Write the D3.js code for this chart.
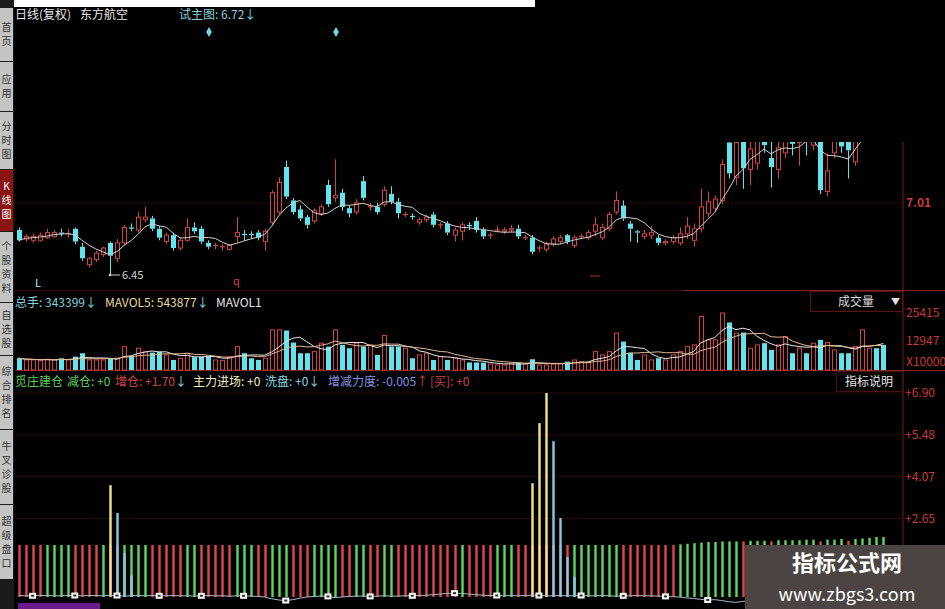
<!DOCTYPE html>
<html><head><meta charset="utf-8">
<script src="https://cdn.jsdelivr.net/npm/d3@7"></script>
<style>
html,body{margin:0;padding:0;background:#000;overflow:hidden;}
svg{display:block;}
text{font-family:"Noto Sans CJK SC","Liberation Sans",sans-serif;}
</style></head><body>
<svg id="c" width="945" height="609"></svg>
<script>
// ---------------- DATA ----------------
const opens  = [6.80,6.73,6.72,6.72,6.74,6.75,6.78,6.77,6.81,6.67,6.53,6.57,6.61,6.70,6.58,6.70,6.82,6.80,6.88,6.89,
                6.81,6.71,6.76,6.66,6.72,6.82,6.81,6.70,6.68,6.67,6.65,6.75,6.77,6.77,6.78,6.71,6.86,6.94,7.29,7.03,
                6.96,6.90,6.87,6.93,7.15,7.05,7.09,6.97,6.94,7.18,6.98,6.98,7.00,7.08,7.02,6.92,6.91,6.86,6.88,6.92,
                6.84,6.85,6.76,6.79,6.84,6.87,6.80,6.76,6.80,6.79,6.80,6.81,6.74,6.74,6.66,6.65,6.69,6.71,6.76,6.68,
                6.75,6.74,6.79,6.74,6.81,6.94,6.99,6.85,6.79,6.75,6.76,6.74,6.70,6.71,6.70,6.77,6.72,6.81,6.93,6.97,
                7.03,7.48,7.21,7.50,7.27,7.32,7.52,7.36,7.27,7.40,7.52,7.48,7.55,7.46,7.55,7.10,7.40,7.52,7.55,7.33,
                7.52,7.60,7.70,7.64];
const closes = [6.72,6.75,6.75,6.76,6.78,6.78,6.77,6.77,6.71,6.58,6.58,6.62,6.66,6.60,6.70,6.82,6.81,6.90,6.90,6.81,
                6.74,6.76,6.66,6.72,6.82,6.79,6.71,6.67,6.68,6.67,6.68,6.78,6.76,6.76,6.74,6.79,7.09,7.17,7.06,6.94,
                6.89,6.84,6.95,6.98,7.00,7.07,6.98,6.93,7.01,7.05,6.98,6.94,7.11,7.02,6.93,6.92,6.90,6.88,6.90,6.84,
                6.84,6.78,6.80,6.84,6.83,6.80,6.75,6.76,6.80,6.80,6.81,6.75,6.74,6.63,6.66,6.69,6.73,6.74,6.71,6.74,
                6.75,6.78,6.84,6.82,6.92,7.03,6.89,6.81,6.78,6.77,6.78,6.70,6.71,6.74,6.77,6.83,6.81,6.98,7.02,7.04,
                7.31,7.24,7.48,7.28,7.43,7.50,7.46,7.29,7.44,7.50,7.47,7.53,7.50,7.50,7.11,7.26,7.52,7.45,7.42,7.50,
                7.62,7.68,7.62,7.58];
const highs  = [6.82,6.77,6.77,6.78,6.81,6.80,6.81,6.81,6.82,6.70,6.59,6.64,6.67,6.71,6.73,6.84,6.85,6.94,6.98,6.91,
                6.83,6.78,6.78,6.74,6.89,6.86,6.83,6.72,6.70,6.69,6.69,6.90,6.80,6.79,6.80,6.81,7.11,7.21,7.34,7.05,
                6.99,6.92,6.97,7.00,7.19,7.35,7.12,6.99,7.04,7.22,7.01,7.01,7.14,7.14,7.05,6.94,6.93,6.90,6.92,6.94,
                6.86,6.87,6.82,6.86,6.86,6.90,6.82,6.78,6.83,6.82,6.84,6.84,6.76,6.76,6.68,6.71,6.75,6.76,6.77,6.76,
                6.77,6.80,6.90,6.85,6.94,7.10,7.03,6.87,6.80,6.80,6.83,6.76,6.73,6.76,6.82,6.90,6.85,7.12,7.10,7.07,
                7.35,7.55,7.55,7.55,7.55,7.58,7.58,7.55,7.55,7.58,7.60,7.60,7.62,7.60,7.60,7.40,7.60,7.60,7.62,7.60,
                7.70,7.74,7.76,7.70];
const lows   = [6.71,6.71,6.70,6.71,6.73,6.74,6.75,6.74,6.69,6.56,6.51,6.55,6.59,6.45,6.55,6.68,6.79,6.78,6.86,6.79,
                6.72,6.69,6.64,6.64,6.71,6.77,6.69,6.65,6.65,6.64,6.64,6.70,6.72,6.73,6.72,6.64,6.84,6.92,7.04,6.92,
                6.87,6.81,6.85,6.91,6.98,7.02,6.95,6.90,6.92,7.03,6.95,6.92,6.98,7.00,6.89,6.90,6.88,6.84,6.86,6.82,
                6.81,6.76,6.71,6.72,6.80,6.78,6.73,6.73,6.78,6.77,6.78,6.73,6.72,6.61,6.63,6.63,6.67,6.69,6.69,6.66,
                6.73,6.72,6.75,6.72,6.79,6.92,6.87,6.71,6.70,6.73,6.73,6.68,6.68,6.69,6.68,6.73,6.67,6.78,6.90,6.94,
                7.00,7.20,7.15,7.12,7.15,7.27,7.40,7.13,7.20,7.36,7.38,7.30,7.38,7.42,7.08,7.06,7.36,7.40,7.20,7.30,
                7.50,7.55,7.58,7.52];
const volumes = [5240,4480,4480,4170,4790,4480,5240,4480,5960,7480,4480,4480,4480,5240,5240,10440,6270,9720,8200,7750,
                 8200,6720,4480,5240,7480,5690,5960,5960,4480,4170,5960,10440,7480,5240,4480,5240,17920,17920,17610,12230,
                 7480,7480,8200,11960,10440,17920,11200,9720,11960,10440,11200,6720,15370,10440,10440,9720,5240,6720,7480,4480,
                 5960,4480,5240,4480,3360,3360,3270,2690,2240,2240,3000,3270,2690,4790,2240,2240,2690,2690,3720,4480,
                 3720,3270,8200,6720,8200,16440,12680,7750,4480,6720,4480,5240,4480,6720,8200,10440,11200,23880,13440,13440,
                 25415,21190,16440,16710,9720,11200,11960,8960,11200,14920,7480,9720,7480,11960,13440,12230,8960,7480,7480,10440,
                 17920,9720,9720,11200];
// indicator: 1 = 增仓 (red), 0 = 减仓 (green)
const indTrend = [1,1,1,1,0,0,0,0,1,1,1,1,0,1,1,0,0,0,0,1,
                  1,1,1,1,0,0,1,1,1,1,1,0,0,0,1,1,0,0,0,1,
                  1,1,0,0,0,0,1,1,0,0,1,1,0,0,1,1,1,1,1,1,
                  1,1,1,0,1,1,1,1,0,0,0,1,1,1,1,1,1,1,1,0,
                  0,0,0,0,0,0,1,1,1,1,1,1,1,1,0,0,0,0,0,0,
                  0,0,0,1,0,0,0,1,0,0,0,0,0,0,1,0,0,0,1,0,
                  0,0,0,0];
const indBase  = [1.76,1.76,1.76,1.76,1.76,1.76,1.76,1.76,1.76,1.76,1.76,1.76,1.76,1.76,1.76,1.76,1.76,1.76,1.76,1.76,
                  1.76,1.76,1.76,1.76,1.76,1.76,1.76,1.76,1.76,1.76,1.76,1.76,1.76,1.76,1.76,1.76,1.76,1.76,1.76,1.76,
                  1.76,1.76,1.76,1.76,1.76,1.76,1.76,1.76,1.76,1.76,1.76,1.76,1.76,1.76,1.76,1.76,1.76,1.76,1.76,1.76,
                  1.76,1.76,1.76,1.76,1.76,1.76,1.76,1.76,1.76,1.76,1.76,1.76,1.76,1.76,1.76,1.76,1.76,1.76,1.76,1.76,
                  1.76,1.76,1.76,1.76,1.76,1.76,1.76,1.76,1.76,1.76,1.76,1.76,1.76,1.76,1.78,1.80,1.82,1.84,1.86,1.86,
                  1.88,1.88,1.88,1.88,1.90,1.90,1.90,1.88,1.92,1.92,1.92,1.92,1.94,1.94,1.88,1.94,1.94,1.96,1.90,1.96,
                  1.98,2.00,2.03,2.03];
const mainIdx  = [13,73,74,75];             // 主力进场 (yellow)
const mainVals = [3.78,3.85,5.88,6.90];
const washIdx  = [14,15,16,76,77,78,79];    // 洗盘 (blue)
const washVals = [2.84,1.49,0.74,5.27,2.67,1.35,0.68];
const forceVals = [0.05,0.04,0.04,0.05,0.05,0.04,0.04,0.05,0.05,0.04, 0.05,0.05,0.04,0.06,0.05,0.03,0.04,0.05,0.04,0.05,
                   0.04,0.04,0.05,0.04,0.04,0.03,0.04,0.05,0.04,0.04, 0.03,0.04,0.04,0.03,0.02,0.00,-0.06,-0.10,-0.12,-0.09,
                   -0.04,0.00,0.02,0.03,0.02,-0.02,0.00,0.02,0.03,0.03, 0.02,0.03,0.04,0.03,0.03,0.04,0.04,0.05,0.06,0.08,
                   0.10,0.12,0.13,0.12,0.10,0.08,0.06,0.05,0.05,0.04, 0.05,0.04,0.05,0.06,0.05,0.04,0.04,0.05,0.04,0.04,
                   0.05,0.04,0.04,0.05,0.04,0.03,0.04,0.04,0.05,0.04, 0.04,0.03,0.02,0.01,0.00,-0.03,-0.05,-0.08,-0.10,-0.09,
                   -0.12,-0.16,-0.18,-0.15,-0.10,-0.08,-0.06,-0.05,-0.05,-0.04, -0.04,-0.03,-0.03,-0.02,-0.02,-0.02,-0.01,-0.01,0.00,0.00,
                   0.00,0.01,0.01,0.01];
const markerIdx = [2,8,14,20,26,32,38,44,50,56,62,68,74,80,86,92,98];
const priceTicks = [7.01];
const volTicks = [25415, 12947];
const indTicks = [6.90, 5.48, 4.07, 2.65];
const lowMark = {i:13, v:6.45};
const sideTabs = ["首页","应用","分时图","K线图","个股资料","自选股","综合排名","牛叉诊股","超级盘口"];

// ---------------- DRAW ----------------
const N = closes.length;
const svg = d3.select("#c");
const RED = "#d04444", CYAN = "#62e4ee", AXR = "#c83a3a", GRID = "#4a0c0c";

svg.append("rect").attr("width",945).attr("height",609).attr("fill","#000");
svg.append("rect").attr("x",0).attr("y",0).attr("width",535).attr("height",7).attr("fill","#fff");

const x = d3.scaleBand().domain(d3.range(N)).range([15, 887]).padding(0);
const cx = i => x(i) + x.bandwidth()/2;
const yP = d3.scaleLinear().domain([6.45, 7.01]).range([275, 203]);
const yV = d3.scaleLinear().domain([0, 25415]).range([370, 313]);
const yI = d3.scaleLinear().domain([0, 6.90]).range([597, 393]);

const defs = svg.append("defs");
defs.append("clipPath").attr("id","pclip").append("rect").attr("x",14).attr("y",142).attr("width",889).attr("height",148);

// grid + frame lines
svg.append("line").attr("x1",15).attr("x2",903).attr("y1",yP(7.01)).attr("y2",yP(7.01)).attr("stroke",GRID).attr("stroke-dasharray","2,2");
indTicks.forEach(t=>svg.append("line").attr("x1",15).attr("x2",903).attr("y1",yI(t)).attr("y2",yI(t)).attr("stroke",GRID).attr("stroke-dasharray","2,2"));
svg.append("line").attr("x1",903).attr("x2",903).attr("y1",142).attr("y2",609).attr("stroke","#7a1c1c");
svg.append("line").attr("x1",15).attr("x2",945).attr("y1",290.5).attr("y2",290.5).attr("stroke","#3a0808");
svg.append("line").attr("x1",683).attr("x2",945).attr("y1",290.5).attr("y2",290.5).attr("stroke","#8a2020");
svg.append("line").attr("x1",15).attr("x2",945).attr("y1",370.5).attr("y2",370.5).attr("stroke","#8a2020");

// candles
const pg = svg.append("g").attr("clip-path","url(#pclip)");
d3.range(N).forEach(i=>{
  const up = closes[i] >= opens[i];
  const col = up ? RED : CYAN;
  const c = Math.round(cx(i))+0.5;
  const top = yP(Math.max(opens[i],closes[i])), bot = yP(Math.min(opens[i],closes[i]));
  pg.append("line").attr("x1",c).attr("x2",c).attr("y1",yP(highs[i])).attr("y2",top).attr("stroke",col);
  pg.append("line").attr("x1",c).attr("x2",c).attr("y1",bot).attr("y2",yP(lows[i])).attr("stroke",col);
  if (Math.abs(bot-top) < 1.2) {
    pg.append("line").attr("x1",c-2.5).attr("x2",c+2.5).attr("y1",top).attr("y2",top).attr("stroke",col).attr("stroke-width",1.2);
  } else if (up) {
    pg.append("rect").attr("x",c-2).attr("y",top).attr("width",4).attr("height",bot-top).attr("fill","#000").attr("stroke",col);
  } else {
    pg.append("rect").attr("x",c-2.5).attr("y",top).attr("width",5).attr("height",bot-top).attr("fill",col);
  }
});
// price MA5
const ma = closes.map((_,i)=>d3.mean(closes.slice(Math.max(0,i-4), i+1)));
pg.append("path").datum(ma).attr("fill","none").attr("stroke","#cfcfcf").attr("stroke-width",1)
  .attr("d", d3.line().x((d,i)=>cx(i)).y(d=>yP(d)));

// low marker 6.45
svg.append("circle").attr("cx",cx(lowMark.i)).attr("cy",yP(lowMark.v)).attr("r",1.3).attr("fill","#ddd");
svg.append("line").attr("x1",cx(lowMark.i)).attr("x2",cx(lowMark.i)+10).attr("y1",yP(lowMark.v)).attr("y2",yP(lowMark.v)).attr("stroke","#ccc");
svg.append("text").attr("x",cx(lowMark.i)+12).attr("y",yP(lowMark.v)+4).attr("font-size",11).attr("fill","#d0d0d0").attr("font-family","Liberation Sans").text(lowMark.v.toFixed(2));
svg.append("text").attr("x",35).attr("y",287).attr("font-size",11).attr("fill","#bfe9f0").attr("font-family","Liberation Sans").text("L");
svg.append("text").attr("x",233).attr("y",285).attr("font-size",11).attr("fill","#d04040").attr("font-family","Liberation Sans").text("q");
svg.append("line").attr("x1",590).attr("x2",600).attr("y1",276).attr("y2",276).attr("stroke","#a03030");

// price axis
const pa = svg.append("g").attr("transform","translate(903,0)").call(d3.axisRight(yP).tickValues(priceTicks).tickSize(0).tickPadding(3).tickFormat(d3.format(".2f")));
pa.select(".domain").remove();
pa.selectAll("text").attr("fill",AXR).attr("font-size",12).attr("font-weight","bold").attr("font-family","Liberation Sans");

// volume bars
const vg = svg.append("g");
d3.range(N).forEach(i=>{
  const up = closes[i] >= opens[i];
  const c = Math.round(cx(i));
  const t = yV(volumes[i]);
  if (up) vg.append("rect").attr("x",c-2+0.5).attr("y",t).attr("width",4).attr("height",370-t).attr("fill","none").attr("stroke",RED);
  else vg.append("rect").attr("x",c-2.5+0.5).attr("y",t).attr("width",5).attr("height",370-t).attr("fill",CYAN);
});
const mav = (n)=>volumes.map((_,i)=>d3.mean(volumes.slice(Math.max(0,i-n+1), i+1)));
vg.append("path").datum(mav(5)).attr("fill","none").attr("stroke","#e6e6e6").attr("stroke-width",1)
  .attr("d", d3.line().x((d,i)=>cx(i)).y(d=>yV(d)));
vg.append("path").datum(mav(10)).attr("fill","none").attr("stroke","#e0b890").attr("stroke-width",1)
  .attr("d", d3.line().x((d,i)=>cx(i)).y(d=>yV(d)));
const va = svg.append("g").attr("transform","translate(903,0)").call(d3.axisRight(yV).tickValues(volTicks).tickSize(0).tickPadding(3).tickFormat(d3.format("d")));
va.select(".domain").remove();
va.selectAll("text").attr("fill",AXR).attr("font-size",12).attr("font-family","Liberation Sans");
svg.append("text").attr("x",906).attr("y",366).attr("fill",AXR).attr("font-size",12).attr("font-family","Liberation Sans").text("X10000");

// indicator bars
const ig = svg.append("g");
d3.range(N).forEach(i=>{
  const c = Math.round(cx(i))+0.5;
  ig.append("line").attr("x1",c).attr("x2",c).attr("y1",yI(0)).attr("y2",yI(indBase[i]))
    .attr("stroke", indTrend[i] ? "#e04848" : "#5cd85c").attr("stroke-width",2.4);
});
mainIdx.forEach((i,k)=>{const c=Math.round(cx(i))+0.5;
  ig.append("line").attr("x1",c).attr("x2",c).attr("y1",yI(0)).attr("y2",yI(mainVals[k])).attr("stroke","#f2e68a").attr("stroke-width",2.4);});
washIdx.forEach((i,k)=>{const c=Math.round(cx(i))+0.5;
  ig.append("line").attr("x1",c).attr("x2",c).attr("y1",yI(0)).attr("y2",yI(washVals[k])).attr("stroke","#84cbe8").attr("stroke-width",2.4);});
ig.append("path").datum(forceVals).attr("fill","none").attr("stroke","#a8b8d0").attr("stroke-width",1)
  .attr("d", d3.line().x((d,i)=>cx(i)).y(d=>yI(d)));
markerIdx.forEach(i=>{
  const c = cx(i), yy = yI(forceVals[i]);
  ig.append("rect").attr("x",c-3.5).attr("y",yy-3).attr("width",7).attr("height",6).attr("fill","#f4f4f4");
  ig.append("rect").attr("x",c-1.5).attr("y",yy-1).attr("width",3).attr("height",2).attr("fill","#333");
});
const ia = svg.append("g").attr("transform","translate(903,0)").call(d3.axisRight(yI).tickValues(indTicks).tickSize(0).tickPadding(2).tickFormat(d=>"+"+d3.format(".2f")(d)));
ia.select(".domain").remove();
ia.selectAll("text").attr("fill",AXR).attr("font-size",12).attr("font-family","Liberation Sans");

// bottom strip
svg.append("rect").attr("x",18).attr("y",603).attr("width",82).attr("height",6).attr("fill","#6a1a8a");

// headers: each part placed at its own x
function hdr(yp, parts){
  parts.forEach(p=>{
    const t = svg.append("text").attr("x",p[0]).attr("y",yp).attr("font-size",12);
    p.slice(1).forEach(s=>t.append("tspan").attr("fill",s[1]).text(s[0]));
  });
}
hdr(19,[[15,["日线(复权)","#e6e6e6"]],[80,["东方航空","#e6e6e6"]],[179,["试主图: 6.72","#86cfdc"],["↓","#6fe0ea"]]]);
[209,336].forEach(px=>svg.append("path").attr("d",d3.symbol(d3.symbolDiamond,28)()).attr("transform",`translate(${px},32)`).attr("fill","#6fd6e2"));
hdr(307,[[15,["总手: 343399","#7fd2de"],["↓","#6fe0ea"]],[105,["MAVOL5: 543877","#e6dc9a"],["↓","#6fe0ea"]],[216,["MAVOL1","#e6e6e6"]]]);
hdr(386,[[15,["觅庄建仓","#5ccc5c"]],[67,["减仓: +0","#5ccc5c"]],[115,["增仓: +1.70","#d04444"],["↓","#8ad8e8"]],
         [193,["主力进场: +0","#eeeec0"]],[265,["洗盘: +0","#8ad8e8"],["↓","#8ad8e8"]],[328,["增减力度: -0.005","#8090e0"],["↑","#d04444"]],[430,["[买]: +0","#d04444"]]]);

// boxes
svg.append("rect").attr("x",810.5).attr("y",291.5).attr("width",92).attr("height",20).attr("fill","#000").attr("stroke","#5a1414");
svg.append("text").attr("x",838).attr("y",306).attr("font-size",12).attr("fill","#d8d8d8").text("成交量");
svg.append("text").attr("x",891).attr("y",305).attr("font-size",9).attr("fill","#e0e0e0").text("▼");
svg.append("rect").attr("x",836.5).attr("y",371.5).attr("width",66).attr("height",20).attr("fill","#000").attr("stroke","#4a1010");
svg.append("text").attr("x",845).attr("y",386).attr("font-size",12).attr("fill","#e6e6e6").text("指标说明");

// sidebar
const tabY = [[8,62],[62,112],[112,170],[170,232],[232,303],[303,356],[356,430],[430,505],[505,580]];
const sb = svg.append("g");
sb.append("rect").attr("x",0).attr("y",0).attr("width",14).attr("height",609).attr("fill","#1a1a1a");
sideTabs.forEach((lab,k)=>{
  const [a,b] = tabY[k];
  const active = lab==="K线图";
  sb.append("rect").attr("x",0).attr("y",a).attr("width",13).attr("height",b-a-1).attr("fill",active?"#8a1414":"#c4c4c4");
  const chars = Array.from(lab);
  const lh = 14, start = (a+b)/2 - chars.length*lh/2 + 10;
  chars.forEach((ch,j)=>sb.append("text").attr("x",6.5).attr("y",start+j*lh).attr("text-anchor","middle")
    .attr("font-size",10).attr("fill",active?"#ffffff":"#333").text(ch));
});

// watermark
svg.append("rect").attr("x",745).attr("y",545).attr("width",200).attr("height",64).attr("fill","#4b4442");
svg.append("text").attr("x",847).attr("y",571).attr("text-anchor","middle").attr("font-size",22).attr("font-weight","bold").attr("fill","#fff").text("指标公式网");
svg.append("text").attr("x",847).attr("y",601).attr("text-anchor","middle").attr("font-size",18).attr("fill","#fff").attr("font-family","Liberation Sans").text("www.zbgs3.com");
</script>
</body></html>
